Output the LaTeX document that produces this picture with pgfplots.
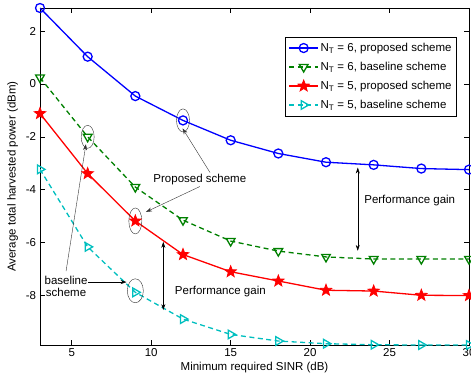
\documentclass[border=0pt]{standalone}
\usepackage{fontspec}
\setmainfont{Liberation Sans}
\usepackage{pgfplots}
\pgfplotsset{compat=1.18}
\usetikzlibrary{calc,arrows.meta}
\definecolor{mblue}{rgb}{0,0,1}
\definecolor{mgreen}{rgb}{0,0.5,0}
\definecolor{mred}{rgb}{1,0,0}
\definecolor{mcyan}{rgb}{0,0.75,0.75}
\pgfdeclareplotmark{pentagram}{%
 \pgfpathmoveto{\pgfpointpolar{90}{\pgfplotmarksize}}%
 \pgfpathlineto{\pgfpointpolar{126}{0.42\pgfplotmarksize}}%
 \pgfpathlineto{\pgfpointpolar{162}{\pgfplotmarksize}}%
 \pgfpathlineto{\pgfpointpolar{198}{0.42\pgfplotmarksize}}%
 \pgfpathlineto{\pgfpointpolar{234}{\pgfplotmarksize}}%
 \pgfpathlineto{\pgfpointpolar{270}{0.42\pgfplotmarksize}}%
 \pgfpathlineto{\pgfpointpolar{306}{\pgfplotmarksize}}%
 \pgfpathlineto{\pgfpointpolar{342}{0.42\pgfplotmarksize}}%
 \pgfpathlineto{\pgfpointpolar{18}{\pgfplotmarksize}}%
 \pgfpathlineto{\pgfpointpolar{54}{0.42\pgfplotmarksize}}%
 \pgfpathclose
 \pgfusepathqfillstroke}
\begin{document}
\fontsize{11}{13}\selectfont
\begin{tikzpicture}
\begin{axis}[
 width=429pt, height=337pt, scale only axis,
 xmin=3, xmax=30, ymin=-9.87, ymax=2.87,
 xtick={5,10,...,30}, ytick={-8,-6,...,2},
 tick align=inside, xtick pos=both, ytick pos=both,
 major tick length=5pt,
 axis line style={line width=0.8pt},
 tick style={line width=0.6pt, black},
 tick label style={font=\fontsize{11.5}{13}\selectfont},
 /pgf/number format/assume math mode=true,
 xlabel={Minimum required SINR (dB)},
 ylabel={Average total harvested power (dBm)},
 xlabel style={at={(axis description cs:0.5,-0.068)}, anchor=center},
 ylabel style={at={(axis description cs:-0.064,0.5)}, anchor=center},
 label style={font=\fontsize{11.5}{13}\selectfont},
 legend style={at={(0.972,0.915)}, anchor=north east, draw=black, line width=0.8pt,
   font=\fontsize{11.5}{13}\selectfont, cells={anchor=west}, row sep=5pt,
   inner xsep=3pt, inner ysep=4pt},
 legend image code/.code={\draw[mark repeat=2,mark phase=2] plot coordinates {(0cm,0cm) (0.5cm,0cm) (1cm,0cm)};},
 every axis plot/.append style={line width=1.3pt},
]
\addplot[mblue, mark=o, mark size=4.5pt, mark options={solid}] coordinates {
 (3,2.87) (6,1.03) (9,-0.46) (12,-1.38) (15,-2.13) (18,-2.63) (21,-2.96) (24,-3.06) (27,-3.20) (30,-3.24)};
\addlegendentry{N\textsubscript{T} = 6, proposed scheme}
\addplot[mgreen, dash pattern=on 5pt off 3.5pt, mark=triangle, mark size=5pt, mark options={solid, rotate=180}] coordinates {
 (3,0.24) (6,-2.0) (9,-3.9) (12,-5.15) (15,-5.94) (18,-6.32) (21,-6.54) (24,-6.62) (27,-6.62) (30,-6.62)};
\addlegendentry{N\textsubscript{T} = 6, baseline scheme}
\addplot[mred, mark=pentagram, mark size=6pt, mark options={solid, fill=mred, line width=0.8pt}] coordinates {
 (3,-1.12) (6,-3.39) (9,-5.18) (12,-6.45) (15,-7.10) (18,-7.45) (21,-7.80) (24,-7.83) (27,-7.99) (30,-8.00)};
\addlegendentry{N\textsubscript{T} = 5, proposed scheme}
\addplot[mcyan, dash pattern=on 5pt off 3.5pt, mark=triangle, mark size=5pt, mark options={solid, rotate=-90}] coordinates {
 (3,-3.23) (6,-6.16) (9,-7.88) (12,-8.89) (15,-9.47) (18,-9.72) (21,-9.82) (24,-9.86) (27,-9.87) (30,-9.87)};
\addlegendentry{N\textsubscript{T} = 5, baseline scheme}

% annotations
\draw[black!80, line width=0.4pt] (axis cs:12,-1.38) ellipse [x radius=6.5pt, y radius=11.5pt];
\draw[black!80, line width=0.4pt] (axis cs:6,-2.0) ellipse [x radius=6.5pt, y radius=11.5pt];
\draw[black!80, line width=0.4pt] (axis cs:9,-5.18) ellipse [x radius=6.5pt, y radius=13pt];
\draw[black!80, line width=0.4pt] (axis cs:9,-7.82) ellipse [x radius=8pt, y radius=12pt];
\node[font=\fontsize{11.5}{13}\selectfont] at (axis cs:13.06,-3.62) {Proposed scheme};
\draw[black!80, line width=0.4pt, -{Stealth[length=6pt,width=4pt]}] (axis cs:13.7,-3.35) -- (axis cs:11.97,-1.68);
\draw[black!80, line width=0.4pt, -{Stealth[length=6pt,width=4pt]}] (axis cs:13.06,-3.88) -- (axis cs:9.67,-4.84);
\node[font=\fontsize{11.5}{13}\selectfont, align=center, inner sep=0pt] at (axis cs:4.64,-7.64) {baseline\\[-1pt]scheme};
\draw[black!80, line width=0.4pt, -{Stealth[length=6pt,width=4pt]}] (axis cs:4.64,-7.08) -- (axis cs:5.89,-2.28);
\draw[black, line width=0.5pt, -{Stealth[length=6pt,width=4pt]}] (axis cs:6.05,-7.49) -- (axis cs:8.45,-7.49);
\draw[black, line width=0.5pt, {Stealth[length=6pt,width=4pt]}-{Stealth[length=6pt,width=4pt]}] (axis cs:23.0,-3.16) -- (axis cs:23.0,-6.31);
\node[font=\fontsize{11.5}{13}\selectfont] at (axis cs:26.27,-4.4) {Performance gain};
\draw[black, line width=0.5pt, {Stealth[length=6pt,width=4pt]}-{Stealth[length=6pt,width=4pt]}] (axis cs:10.76,-5.97) -- (axis cs:10.76,-8.55);
\node[font=\fontsize{11.5}{13}\selectfont] at (axis cs:14.35,-7.86) {Performance gain};
\end{axis}
\pgfresetboundingbox
\path[use as bounding box] ($(current axis.south west)+(-40pt,-32pt)$) rectangle ($(current axis.north east)+(2pt,8pt)$);
\end{tikzpicture}
\end{document}
